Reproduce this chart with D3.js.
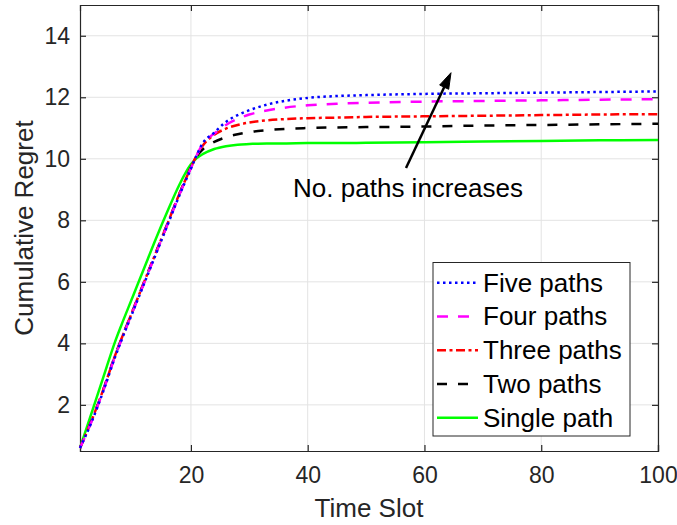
<!DOCTYPE html>
<html><head><meta charset="utf-8">
<script src="https://cdn.jsdelivr.net/npm/d3@7"></script>
<style>body{margin:0;background:#fff}svg{display:block}</style>
</head><body>
<svg id="c" width="677" height="525"></svg>
<script>
const xs    = [1,3,5,7,8,10,12,14,16,18,20,21,22,24,26,28,30,33,36,40,45,50,60,70,80,90,100];
const five  = [0.6,1.45,2.45,3.55,4.05,5.0,5.95,6.9,7.85,8.8,9.68,10.12,10.5,10.85,11.2,11.42,11.58,11.76,11.88,11.98,12.04,12.07,12.11,12.13,12.15,12.17,12.19];
const four  = [0.6,1.47,2.47,3.57,4.07,5.02,5.97,6.92,7.87,8.82,9.7,10.12,10.48,10.82,11.1,11.3,11.44,11.57,11.66,11.74,11.79,11.82,11.86,11.88,11.9,11.92,11.94];
const three = [0.6,1.5,2.5,3.6,4.1,5.05,6.0,6.95,7.9,8.85,9.72,10.12,10.42,10.78,10.98,11.1,11.18,11.25,11.29,11.32,11.34,11.36,11.38,11.4,11.42,11.44,11.45];
const two   = [0.6,1.5,2.5,3.6,4.1,5.05,6.0,6.95,7.9,8.85,9.72,10.08,10.3,10.55,10.7,10.8,10.87,10.93,10.97,11.0,11.02,11.03,11.05,11.08,11.1,11.12,11.14];
const single= [0.6,1.75,2.9,4.05,4.55,5.5,6.45,7.4,8.3,9.15,9.82,10.02,10.15,10.32,10.41,10.46,10.48,10.5,10.5,10.51,10.51,10.52,10.54,10.56,10.58,10.6,10.61];
const seriesNames = ["Five paths","Four paths","Three paths","Two paths","Single path"];
const xTicks = [20,40,60,80,100];
const yTicks = [2,4,6,8,10,12,14];

const series = [
  {name: seriesNames[0], vals: five,  color:"#0000ff", dash:"2.5,3.5"},
  {name: seriesNames[1], vals: four,  color:"#ff00ff", dash:"11,10"},
  {name: seriesNames[2], vals: three, color:"#ff0000", dash:"9,3.5,3,3.5"},
  {name: seriesNames[3], vals: two,   color:"#000000", dash:"10,11"},
  {name: seriesNames[4], vals: single,color:"#00ff00", dash:null}
];

const L=80, R=658, T=5, B=451;
const svg = d3.select("#c");
const x = d3.scaleLinear().domain([1,100]).range([L,R]);
const y = d3.scaleLinear().domain([0.5,15]).range([B,T]);
const font = "'Liberation Sans', Arial, sans-serif";

// grid
svg.append("g").selectAll("line").data(xTicks).join("line")
  .attr("x1",d=>x(d)).attr("x2",d=>x(d)).attr("y1",T).attr("y2",B)
  .attr("stroke","#e3e3e3").attr("stroke-width",1);
svg.append("g").selectAll("line").data(yTicks).join("line")
  .attr("y1",d=>y(d)).attr("y2",d=>y(d)).attr("x1",L).attr("x2",R)
  .attr("stroke","#e3e3e3").attr("stroke-width",1);

// axes
const gx = svg.append("g").attr("transform",`translate(0,${B})`)
  .call(d3.axisBottom(x).tickValues(xTicks).tickSize(-6).tickPadding(16));
const gxt = svg.append("g").attr("transform",`translate(0,${T})`)
  .call(d3.axisTop(x).tickValues(xTicks).tickSize(-6).tickFormat(""));
const gy = svg.append("g").attr("transform",`translate(${L},0)`)
  .call(d3.axisLeft(y).tickValues(yTicks).tickSize(-6).tickPadding(10));
const gyr = svg.append("g").attr("transform",`translate(${R},0)`)
  .call(d3.axisRight(y).tickValues(yTicks).tickSize(-6).tickFormat(""));
[gx,gxt,gy,gyr].forEach(g=>{
  g.select(".domain").attr("stroke","#262626").attr("stroke-width",1.2);
  g.selectAll(".tick line").attr("stroke","#262626").attr("stroke-width",1.2);
  g.selectAll("text").attr("font-family",font).attr("font-size",23).attr("fill","#262626");
});

// lines
const line = d3.line().x(d=>x(d[0])).y(d=>y(d[1])).curve(d3.curveMonotoneX);
const plot = svg.append("g");
series.slice().reverse().forEach(s=>{
  plot.append("path").datum(xs.map((v,i)=>[v,s.vals[i]]))
    .attr("d",line).attr("fill","none").attr("stroke",s.color)
    .attr("stroke-width",2.5).attr("stroke-dasharray",s.dash);
});

// axis titles
svg.append("text").attr("x",369).attr("y",517).attr("text-anchor","middle")
  .attr("font-family",font).attr("font-size",26).attr("fill","#262626").text("Time Slot");
svg.append("text").attr("transform",`translate(33,${(T+B)/2}) rotate(-90)`).attr("text-anchor","middle")
  .attr("font-family",font).attr("font-size",26).attr("fill","#262626").text("Cumulative Regret");

// annotation arrow
const ax0=406, ay0=168, ax1=451, ay1=72.7;
const ang = Math.atan2(ay1-ay0, ax1-ax0), hl=16, hw=5;
const bx = ax1 - hl*Math.cos(ang), by = ay1 - hl*Math.sin(ang);
svg.append("line").attr("x1",ax0).attr("y1",ay0).attr("x2",bx+3*Math.cos(ang)).attr("y2",by+3*Math.sin(ang))
  .attr("stroke","#000").attr("stroke-width",2.5);
svg.append("path").attr("d",`M${ax1},${ay1} L${bx - hw*Math.sin(ang)},${by + hw*Math.cos(ang)} L${bx + hw*Math.sin(ang)},${by - hw*Math.cos(ang)} Z`)
  .attr("fill","#000").attr("stroke","#000").attr("stroke-width",1);
svg.append("text").attr("x",408).attr("y",196.5).attr("text-anchor","middle")
  .attr("font-family",font).attr("font-size",26).attr("fill","#000").text("No. paths increases");

// legend
const lg = svg.append("g");
lg.append("rect").attr("x",433).attr("y",262.5).attr("width",197).attr("height",173.5)
  .attr("fill","#fff").attr("stroke","#262626").attr("stroke-width",1);
series.forEach((s,i)=>{
  const base = 291.7 + i*33.75;
  lg.append("line").attr("x1",437).attr("x2",478).attr("y1",base-9).attr("y2",base-9)
    .attr("stroke",s.color).attr("stroke-width",2.5).attr("stroke-dasharray",s.dash);
  lg.append("text").attr("x",483).attr("y",base).attr("font-family",font).attr("font-size",26)
    .attr("fill","#000").text(s.name);
});
</script>
</body></html>
